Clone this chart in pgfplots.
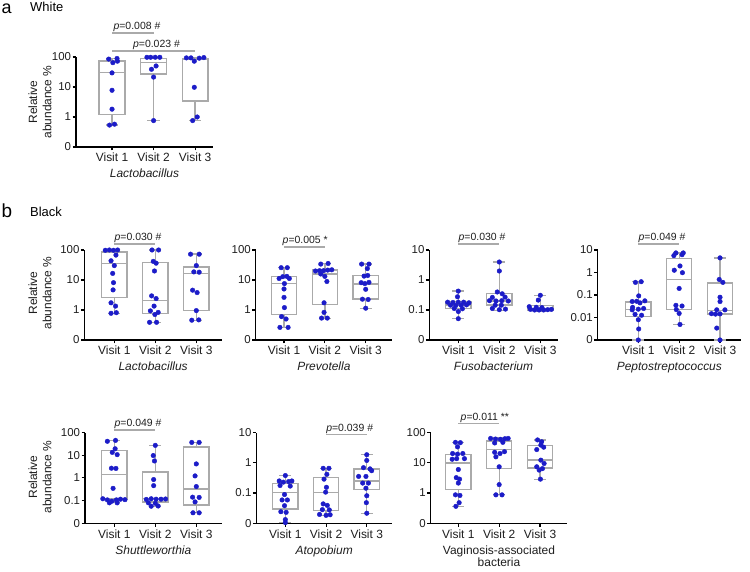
\documentclass[border=0pt]{standalone}
\usepackage{fontspec}
\setmainfont{Liberation Sans}
\usepackage{pgfplots}
\pgfplotsset{compat=1.18}
\usepgfplotslibrary{statistics}
\definecolor{ptblue}{RGB}{28,28,200}
\definecolor{boxgray}{RGB}{170,170,170}
\definecolor{txt}{RGB}{30,30,30}

\pgfplotsset{
  panel/.style={
    scale only axis, clip=false, height=90bp,
    axis x line*=bottom, axis y line*=left,
    axis line style={-, line width=1.1bp, black},
    tick align=outside, major tick length=3.5bp,
    tick style={line width=1.1bp, black},
    xtick={1,2,3}, xticklabels={},
    yticklabel style={font=\fontsize{11.5}{11.5}\selectfont, inner sep=1.2bp, text=txt},
    boxplot/draw direction=y,
  },
  bxs/.style={boxgray, line width=1.3bp, solid},
  pts/.style={only marks, mark=*, mark size=2.3bp, ptblue, mark options={draw=ptblue, fill=ptblue}},
}
\tikzset{
  vl/.style={anchor=base, yshift=-15bp, font=\fontsize{12}{12}\selectfont, text=txt, inner sep=0pt},
  sp/.style={anchor=base, yshift=-31bp, font=\fontsize{12}{12}\selectfont\itshape, text=txt, inner sep=0pt},
  pl/.style={anchor=base, yshift=3bp, font=\fontsize{10.5}{10.5}\selectfont, text=txt, inner sep=0pt},
  yl/.style={rotate=90, align=center, font=\fontsize{12}{14.3}\selectfont, text=txt, inner sep=0pt},
}
\newcommand{\bx}[6]{\addplot[bxs, boxplot prepared={draw direction=y, draw position=#1, lower whisker=#2, lower quartile=#3, median=#4, upper quartile=#5, upper whisker=#6, box extend=0.62, whisker extend=0.3}] coordinates {};}
\newcommand{\vis}[1]{\node[vl] at (axis cs:1,#1) {Visit 1};\node[vl] at (axis cs:2,#1) {Visit 2};\node[vl] at (axis cs:3,#1) {Visit 3};}
\newcommand{\pline}[5]{\draw[boxgray, line width=1.2bp] (axis cs:#1,#3) -- (axis cs:#2,#3);\node[pl] at (axis cs:#4,#3) {#5};}

\begin{document}
\begin{tikzpicture}[x=1bp,y=1bp]
\useasboundingbox (0,0) rectangle (750,572);

% headers
\node[anchor=base west, inner sep=0pt, font=\fontsize{18}{18}\selectfont] at (1.5,558) {a};
\node[anchor=base west, inner sep=0pt, font=\fontsize{13}{13}\selectfont] at (30,560) {White};
\node[anchor=base west, inner sep=0pt, font=\fontsize{19}{19}\selectfont] at (1.5,354) {b};
\node[anchor=base west, inner sep=0pt, font=\fontsize{13}{13}\selectfont] at (30,355) {Black};

% y labels
\node[yl] at (40,470) {Relative\\abundance \%};
\node[yl] at (40,279) {Relative\\abundance \%};
\node[yl] at (40,95) {Relative\\abundance \%};

% ---------- a: White Lactobacillus
\begin{axis}[panel, at={(76bp,425bp)}, anchor=south west, width=137bp,
  xmin=0.133, xmax=3.43, ymin=-1, ymax=2, ytick={-1,0,1,2}, yticklabels={0,1,10,100}]
\bx{1}{-0.27}{0.09}{1.48}{1.87}{1.95}
\bx{2}{-0.12}{1.43}{1.81}{1.96}{1.99}
\bx{3}{-0.12}{0.53}{1.93}{1.96}{1.98}
\addplot[pts] coordinates {(0.92,1.93)(1.12,1.95)(1.02,1.81)(1.13,1.86)(1,1.47)(1,0.89)(1,0.26)(0.94,-0.27)(1.06,-0.24)};
\addplot[pts] coordinates {(1.84,1.99)(1.93,1.99)(2.04,1.99)(2.15,1.99)(1.95,1.59)(2.06,1.70)(2,1.33)(2,-0.12)};
\addplot[pts] coordinates {(2.79,1.97)(2.9,1.97)(3.1,1.96)(3.21,1.98)(2.98,1.86)(2.98,0.99)(3.05,0.0)(2.94,-0.12)};
\vis{-1}
\node[sp] at (rel axis cs:0.5,0) {Lactobacillus};
\pline{1}{2}{2.8}{1.6}{{\itshape p}=0.008 \#}
\pline{1}{3}{2.2}{2.07}{{\itshape p}=0.023 \#}
\end{axis}

% ---------- b row 1: Lactobacillus
\begin{axis}[panel, at={(84.3bp,232bp)}, anchor=south west, width=137.7bp,
  xmin=0.268, xmax=3.627, ymin=-1, ymax=2, ytick={-1,0,1,2}, yticklabels={0,1,10,100}]
\bx{1}{-0.11}{0.41}{1.56}{1.93}{2.0}
\bx{2}{-0.41}{-0.11}{0.32}{1.58}{2.0}
\bx{3}{-0.36}{-0.01}{1.22}{1.43}{1.87}
\addplot[pts] coordinates {(0.78,1.99)(0.88,2.0)(0.98,1.99)(1.08,2.0)(1.04,1.83)(0.92,1.64)(1,1.48)(0.96,1.22)(0.98,0.91)(0.97,0.67)(0.92,0.24)(1.03,0.13)(0.92,-0.11)(1.05,-0.09)};
\addplot[pts] coordinates {(1.92,2.0)(2.08,2.0)(1.95,1.62)(2.02,1.56)(1.98,1.30)(1.91,0.47)(2.02,0.38)(1.97,0.13)(1.88,-0.03)(2.07,-0.08)(1.99,-0.15)(1.86,-0.41)(2.03,-0.41)};
\addplot[pts] coordinates {(2.86,1.86)(3.07,1.86)(3,1.48)(2.94,1.27)(3.07,1.26)(2.91,0.66)(3.02,0.58)(3,-0.02)(2.89,-0.34)(3.06,-0.33)};
\vis{-1}
\node[sp] at (rel axis cs:0.5,0) {Lactobacillus};
\pline{1}{2}{2.2}{1.58}{{\itshape p}=0.030 \#}
\end{axis}

% ---------- Prevotella
\begin{axis}[panel, at={(255.7bp,232bp)}, anchor=south west, width=136.3bp,
  xmin=0.307, xmax=3.644, ymin=-1, ymax=2, ytick={-1,0,1,2}, yticklabels={0,1,10,100}]
\bx{1}{-0.58}{-0.15}{0.88}{1.11}{1.42}
\bx{2}{-0.28}{0.18}{1.2}{1.33}{1.55}
\bx{3}{0.05}{0.37}{0.87}{1.14}{1.53}
\addplot[pts] coordinates {(0.93,1.41)(1.08,1.41)(0.88,1.05)(0.97,1.11)(1.07,1.12)(1.13,1.05)(1.01,0.88)(1,0.70)(1,0.42)(1.01,0.08)(0.94,-0.22)(1.05,-0.30)(0.9,-0.58)(1.1,-0.58)};
\addplot[pts] coordinates {(1.9,1.53)(2.08,1.55)(1.77,1.30)(1.87,1.31)(1.97,1.31)(2.07,1.33)(2.17,1.34)(1.9,1.20)(2,1.12)(2.05,0.95)(1.98,0.24)(1.98,-0.08)(1.92,-0.27)(2.06,-0.27)};
\addplot[pts] coordinates {(2.9,1.53)(3.08,1.53)(3.04,1.38)(2.96,1.13)(3.05,1.15)(2.89,0.91)(2.98,0.88)(3.08,0.92)(3,0.69)(2.92,0.36)(3.06,0.35)(3,0.06)};
\vis{-1}
\node[sp] at (rel axis cs:0.5,0) {Prevotella};
\pline{1}{2}{2.1}{1.52}{{\itshape p}=0.005 *}
\end{axis}

% ---------- Fusobacterium
\begin{axis}[panel, at={(429.3bp,232bp)}, anchor=south west, width=128.4bp,
  xmin=0.293, xmax=3.424, ymin=-2, ymax=1, ytick={-2,-1,0,1}, yticklabels={0,0.1,1,10}]
\bx{1}{-1.29}{-0.94}{-0.83}{-0.72}{-0.37}
\bx{2}{-1.01}{-0.83}{-0.70}{-0.44}{0.6}
\bx{3}{-1.04}{-1.02}{-0.97}{-0.86}{-0.51}
\addplot[pts] coordinates {(1,-0.37)(0.98,-0.56)(0.74,-0.74)(0.87,-0.75)(1,-0.74)(1.13,-0.74)(1.26,-0.76)(0.81,-0.84)(0.94,-0.85)(1.07,-0.84)(1.2,-0.83)(0.9,-0.95)(1.1,-0.96)(1,-1.05)(1,-1.29)};
\addplot[pts] coordinates {(2,0.6)(2,0.3)(1.95,-0.40)(2.07,-0.46)(1.83,-0.58)(2.14,-0.57)(1.76,-0.69)(1.92,-0.7)(2.06,-0.69)(2.22,-0.70)(1.9,-0.84)(2.05,-0.84)(1.83,-0.95)(2,-0.99)(2.15,-0.97)};
\addplot[pts] coordinates {(3,-0.51)(2.95,-0.67)(2.73,-0.89)(2.9,-0.91)(3.04,-0.92)(2.76,-0.98)(2.86,-1.0)(2.97,-1.0)(3.08,-1.0)(3.18,-0.99)(3.27,-0.98)};
\vis{-2}
\node[sp] at (rel axis cs:0.5,0) {Fusobacterium};
\pline{1}{2}{1.2}{1.58}{{\itshape p}=0.030 \#}
\end{axis}

% ---------- Peptostreptococcus
\begin{axis}[panel, at={(597.7bp,232bp)}, anchor=south west, width=143.3bp,
  xmin=0.006, xmax=3.514, ymin=-3, ymax=1, ytick={-3,-2,-1,0,1}, yticklabels={0,0.01,0.1,1,10}]
\bx{1}{-3}{-1.96}{-1.63}{-1.31}{-0.40}
\bx{2}{-2.31}{-1.65}{-0.31}{0.62}{0.87}
\bx{3}{-3}{-1.85}{-1.68}{-0.47}{0.65}
\addplot[pts] coordinates {(0.93,-0.44)(1.07,-0.41)(1.01,-1.04)(0.85,-1.29)(0.96,-1.28)(1.16,-1.26)(1.04,-1.35)(0.86,-1.55)(1,-1.63)(1.13,-1.6)(0.85,-1.66)(0.92,-1.86)(1.08,-1.9)(1,-2.1)(1.01,-2.51)(1,-3)};
\addplot[pts] coordinates {(1.92,0.87)(2.1,0.87)(1.87,0.75)(2.07,0.79)(2.02,0.29)(1.88,0.10)(2.08,-0.01)(2,-0.71)(1.92,-1.46)(2.07,-1.49)(1.93,-1.65)(2,-1.82)(2.02,-2.31)};
\addplot[pts] coordinates {(3,0.65)(2.98,-0.31)(3.07,-0.44)(3,-1.1)(3,-1.29)(2.92,-1.66)(3.12,-1.66)(2.79,-1.83)(2.89,-1.85)(3,-1.84)(2.92,-2.47)(3,-3)};
\vis{-3}
\node[sp] at (rel axis cs:0.5,0) {Peptostreptococcus};
\pline{1}{2}{1.27}{1.58}{{\itshape p}=0.049 \#}
\end{axis}

% ---------- Shuttleworthia
\begin{axis}[panel, at={(85bp,48.8bp)}, anchor=south west, width=136.7bp, height=90.5bp,
  xmin=0.285, xmax=3.62, ymin=-2, ymax=2, ytick={-2,-1,0,1,2}, yticklabels={0,0.1,1,10,100}]
\bx{1}{-1.10}{-0.93}{0.15}{1.22}{1.66}
\bx{2}{-1.25}{-1.06}{-0.91}{0.26}{1.44}
\bx{3}{-1.54}{-1.19}{-0.49}{1.37}{1.57}
\addplot[pts] coordinates {(0.83,1.62)(1.03,1.66)(1.02,1.29)(0.95,1.13)(1.07,1.03)(0.93,0.43)(1.04,0.42)(0.97,-0.46)(0.72,-0.92)(0.83,-0.97)(0.94,-1.03)(1.05,-0.97)(1.15,-0.94)(1.26,-0.96)(0.88,-1.10)(1.07,-1.10)};
\addplot[pts] coordinates {(2,1.44)(1.95,0.99)(1.98,0.75)(1.96,-0.07)(1.96,-0.34)(1.78,-0.95)(1.9,-0.92)(2.02,-0.94)(2.14,-0.94)(2.25,-0.93)(1.83,-1.1)(2,-1.12)(1.9,-1.25)(2.07,-1.24)};
\addplot[pts] coordinates {(2.89,1.57)(3.07,1.57)(3,0.62)(2.97,0.09)(3,-0.38)(2.91,-0.85)(3.07,-0.86)(2.97,-1.06)(2.92,-1.54)(3.07,-1.54)};
\vis{-2}
\node[sp] at (rel axis cs:0.5,0) {Shuttleworthia};
\pline{1}{2}{2.12}{1.58}{{\itshape p}=0.049 \#}
\end{axis}

% ---------- Atopobium
\begin{axis}[panel, at={(256.3bp,48.8bp)}, anchor=south west, width=135.7bp, height=90.5bp,
  xmin=0.287, xmax=3.62, ymin=-2, ymax=1, ytick={-2,-1,0,1}, yticklabels={0,0.1,1,10}]
\bx{1}{-1.98}{-1.53}{-0.99}{-0.69}{-0.42}
\bx{2}{-1.74}{-1.57}{-0.98}{-0.49}{-0.18}
\bx{3}{-1.67}{-0.88}{-0.6}{-0.2}{0.27}
\addplot[pts] coordinates {(1,-0.42)(0.85,-0.6)(0.95,-0.64)(1.08,-0.62)(1.16,-0.6)(0.87,-0.75)(1.12,-0.77)(0.98,-1.05)(0.92,-1.23)(1.05,-1.23)(0.98,-1.42)(0.89,-1.62)(1.02,-1.64)(1,-1.88)(1,-1.98)};
\addplot[pts] coordinates {(1.93,-0.18)(2.07,-0.18)(2.02,-0.38)(1.95,-0.54)(2.01,-0.81)(1.99,-0.97)(1.93,-1.36)(2.03,-1.41)(1.91,-1.55)(2.08,-1.56)(1.84,-1.71)(2,-1.74)(2.1,-1.72)};
\addplot[pts] coordinates {(3,0.27)(3,0.08)(2.92,-0.16)(3.08,-0.2)(3.12,-0.26)(2.8,-0.45)(2.98,-0.45)(2.9,-0.67)(3.04,-0.67)(2.98,-0.84)(3,-1.09)(2.99,-1.32)(3,-1.67)};
\vis{-2}
\node[sp] at (rel axis cs:0.5,0) {Atopobium};
\pline{2}{3}{0.93}{2.58}{{\itshape p}=0.039 \#}
\end{axis}

% ---------- Vaginosis-associated bacteria
\begin{axis}[panel, at={(430.7bp,48.8bp)}, anchor=south west, width=136.6bp, height=90.5bp,
  xmin=0.324, xmax=3.668, ymin=-1, ymax=2, ytick={-1,0,1,2}, yticklabels={0,1,10,100}]
\bx{1}{-0.44}{0.11}{1.0}{1.28}{1.68}
\bx{2}{-0.06}{0.81}{1.44}{1.72}{1.82}
\bx{3}{0.46}{0.83}{1.09}{1.57}{1.76}
\addplot[pts] coordinates {(0.93,1.68)(1.05,1.67)(0.98,1.53)(0.86,1.31)(0.98,1.29)(1.11,1.31)(0.85,1.12)(0.96,1.14)(1.15,1.14)(1,0.78)(0.95,0.51)(1.03,0.46)(1,0.33)(0.93,-0.06)(1.04,-0.08)(1.02,-0.32)(0.94,-0.44)};
\addplot[pts] coordinates {(1.79,1.81)(1.91,1.79)(2.03,1.78)(2.14,1.8)(2.22,1.81)(1.89,1.66)(2.09,1.68)(1.89,1.35)(2.02,1.31)(2.13,1.37)(1.92,1.2)(2,0.87)(2,0.28)(1.92,-0.06)(2.07,-0.06)};
\addplot[pts] coordinates {(2.94,1.76)(3.04,1.70)(3.02,1.59)(3.09,1.52)(2.92,1.44)(3.02,1.09)(2.92,0.87)(3.06,0.81)(2.98,0.76)(3.01,0.46)(3.1,0.98)};
\vis{-1}
\node[anchor=base, yshift=-31bp, font=\fontsize{12}{12}\selectfont, text=txt, inner sep=0pt] at (rel axis cs:0.5,0) {Vaginosis-associated};
\node[anchor=base, yshift=-43.5bp, font=\fontsize{12}{12}\selectfont, text=txt, inner sep=0pt] at (rel axis cs:0.5,0) {bacteria};
\pline{1}{2}{2.31}{1.65}{{\itshape p}=0.011 **}
\end{axis}
\end{tikzpicture}
\end{document}
